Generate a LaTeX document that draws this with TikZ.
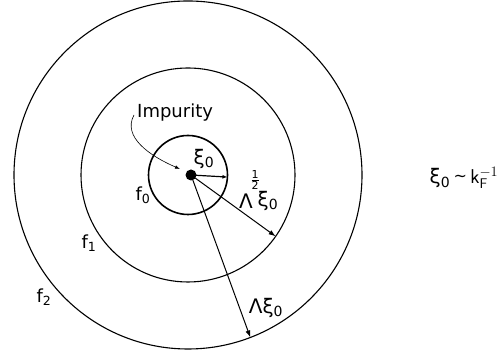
\documentclass[tikz,border=0pt]{standalone}
\usepackage{fontspec}
\setmainfont{DejaVu Sans}
\usetikzlibrary{arrows.meta,calc}
\begin{document}
\begin{tikzpicture}[x=1pt,y=1pt,
  lbl/.style={inner sep=0pt,font=\fontsize{18}{20}\selectfont},
  big/.style={inner sep=0pt,font=\fontsize{20}{22}\selectfont},
  ring/.style={draw,line width=1.1pt},
  radiusarrow/.style={line width=1pt,-{Latex[length=7pt,width=5pt]}}]
\useasboundingbox (0,0) rectangle (504,352);
\coordinate (C) at (188,177);
% rings
\draw[ring,line width=1.6pt] (C) circle[radius=39.5];
\draw[ring] (C) circle[radius=107];
\draw[ring] (C) circle[radius=174];
% impurity dot
\fill (C) ++(3,0) circle[radius=5.5];
\coordinate (D) at (191,177);
% radii
\coordinate (E0) at ($(C)+(-3:39.5)$);
\draw[radiusarrow,line width=1.2pt,-{Latex[length=5pt,width=4pt]}] (D) -- (E0);
\coordinate (E1) at ($(C)+(-35:107)$);
\draw[radiusarrow] (D) -- (E1);
\coordinate (E2) at ($(C)+(-69:174)$);
\draw[radiusarrow] (D) -- (E2);
% impurity label and pointer
\node[lbl,anchor=west] (imp) at (137,239) {Impurity};
\draw[line width=0.6pt,-{Latex[length=5pt,width=3.5pt]}] (imp.west) ++(-3,-2) .. controls (122,215) and (150,196) .. (180,183);
% labels
\node[big] (xi) at (204,193) {ξ\textsubscript{0}};
\node[lbl] (f0) at (143,157) {f\textsubscript{0}};
\node[lbl] (f1) at (89,109) {f\textsubscript{1}};
\node[lbl] (f2) at (44,55) {f\textsubscript{2}};
\node[big] (lam) at (246,151) {Λ};
\node[inner sep=0pt,font=\fontsize{11}{11}\selectfont] (half) at (255,172) {$\frac{\mbox{1}}{\mbox{2}}$};
\node[big] (lxi0) at (268,151) {ξ\textsubscript{0}};
\node[big] (lxi) at (266,44) {Λξ\textsubscript{0}};
\node[big] (rel) at (464,174) {ξ\textsubscript{0}\,\raisebox{2pt}{\fontsize{16}{16}\selectfont \~{}}\,$\mathsf{k}_{\mathsf{F}}^{-1}$};
\end{tikzpicture}
\end{document}
